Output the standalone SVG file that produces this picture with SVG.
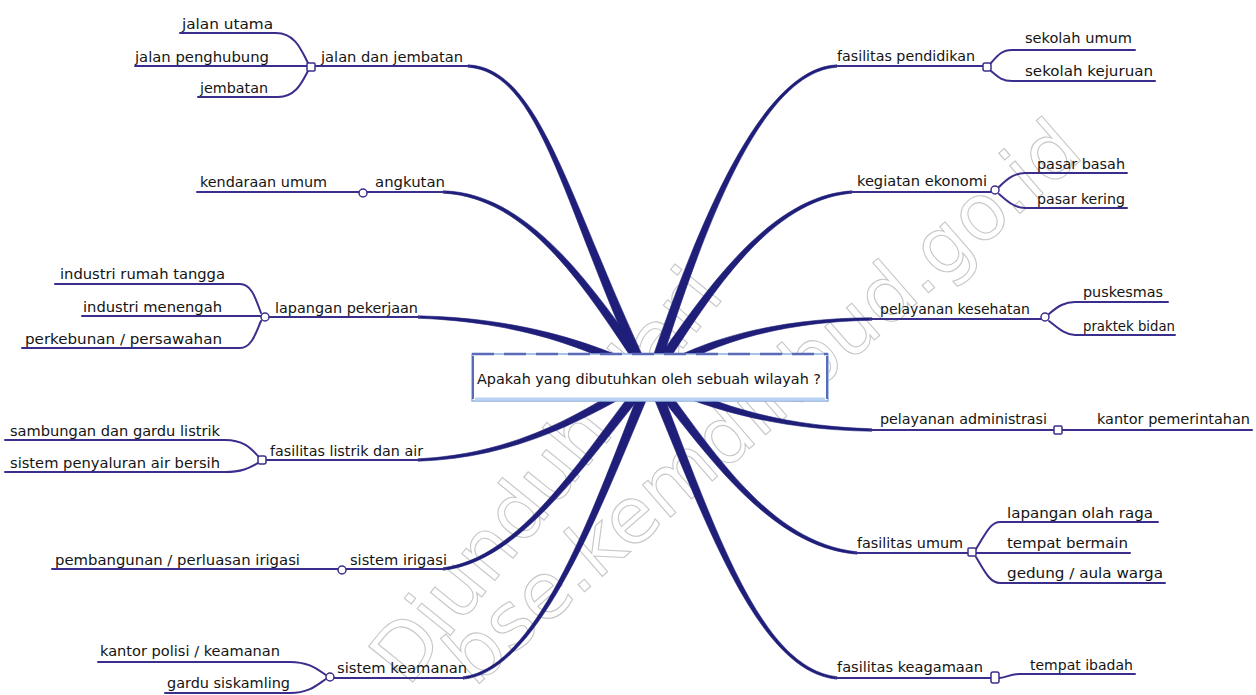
<svg xmlns="http://www.w3.org/2000/svg" width="1256" height="695" viewBox="0 0 1256 695">
<style>
text{font-family:"DejaVu Sans Condensed","DejaVu Sans","Liberation Sans",sans-serif;font-size:14px;fill:#141414}
.ul{fill:none;stroke:#3a2e8c;stroke-width:2;stroke-linecap:round}
.jn{fill:#fff;stroke:#3a2e8c;stroke-width:1.5}
.mc{fill:#1f1f7a;stroke:#1f1f7a;stroke-width:0.6;stroke-linejoin:round}
.wm{font-family:"DejaVu Sans",sans-serif;font-size:78px;fill:none;stroke:#b4b4b4;stroke-width:1.1;opacity:0.75}
</style>
<rect width="1256" height="695" fill="#fff"/>
<g id="watermark">
<text class="wm" transform="translate(408,688) rotate(-51)">Diunduh dari</text>
<text class="wm" transform="translate(474,688) rotate(-41)">bse.kemdikbud.go.id</text>
</g>
<g id="connectors">
<g id="main-branches">
<path class="mc" d="M467.9 67.2 C539.9 72 561.8 201.5 637.5 368.1 L646.5 363.9 C568.2 198.5 540.1 68 468.1 64.8 Z"/>
<path class="mc" d="M443 193.2 C530 197 587.1 292 640.9 371.9 L649.1 366.1 C592.9 288 530 193 443 190.8 Z"/>
<path class="mc" d="M418 318.2 C520 322 588.4 348.1 642.7 377.5 L647.3 368.5 C591.6 341.9 520 318 418 315.8 Z"/>
<path class="mc" d="M418 461.2 C520 458 591.8 415 647.6 383.3 L642.4 374.7 C588.2 409 520 454 418 458.8 Z"/>
<path class="mc" d="M443.1 570.2 C520.2 562 584.7 464.2 649.9 385.1 L642.1 378.9 C579.3 459.8 519.8 558 442.9 567.8 Z"/>
<path class="mc" d="M463.1 679.2 C540.2 672 603.2 501.3 652.6 384.9 L643.4 381.1 C596.8 498.7 539.8 668 462.9 676.8 Z"/>
<path class="mc" d="M837 64.8 C760 68 696.7 228.9 650.3 364.4 L659.7 367.6 C703.3 231.1 760 72 837 67.2 Z"/>
<path class="mc" d="M852 190.8 C770 196 707.1 288.1 652.8 366.2 L661.2 371.8 C712.9 292 770 200 852 193.2 Z"/>
<path class="mc" d="M872 317.8 C770 318 698.1 342.1 654.3 368.8 L659.7 377.2 C701.9 347.9 770 322 872 320.2 Z"/>
<path class="mc" d="M872 428.8 C770 426 701.6 398.9 659.3 375.6 L654.7 384.4 C698.4 405.1 770 430 872 431.2 Z"/>
<path class="mc" d="M857.1 551.8 C770.2 543 712.8 449.8 659.9 379.9 L652.1 386.1 C707.2 454.2 769.8 547 856.9 554.2 Z"/>
<path class="mc" d="M837.1 676.8 C760.2 668 715.3 528.7 658.6 383.1 L649.4 386.9 C708.8 531.3 759.8 672 836.9 679.2 Z"/>
</g>
<g id="underlines">
<path class="ul" d="M180 33 H276 C296 33 302 52 308 63"/>
<path class="ul" d="M135 66 H307"/>
<path class="ul" d="M198 97 H278 C296 97 302 82 308 71"/>
<path class="ul" d="M316 66 H470"/>
<path class="ul" d="M197 192 H359"/>
<path class="ul" d="M367 192 H445"/>
<path class="ul" d="M55 284 H240 C252 284 256 300 261 313"/>
<path class="ul" d="M82 316 H261"/>
<path class="ul" d="M22 348 H240 C252 348 256 332 261 321"/>
<path class="ul" d="M269 317 H420"/>
<path class="ul" d="M5 440 H225 C245 440 252 450 258 456"/>
<path class="ul" d="M5 472 H225 C245 472 252 466 258 463"/>
<path class="ul" d="M266 460 H420"/>
<path class="ul" d="M52 569 H338"/>
<path class="ul" d="M346 569 H445"/>
<path class="ul" d="M98 662 H290 C310 662 318 670 326 675"/>
<path class="ul" d="M165 693 H290 C310 693 318 684 326 679"/>
<path class="ul" d="M334 678 H465"/>
<path class="ul" d="M835 66 H983"/>
<path class="ul" d="M991 63 C998 55 1002 50 1012 50 H1135"/>
<path class="ul" d="M991 71 C998 77 1002 81 1012 81 H1155"/>
<path class="ul" d="M850 192 H991"/>
<path class="ul" d="M999 187 C1008 178 1015 173 1025 173 H1127"/>
<path class="ul" d="M999 194 C1008 202 1015 208 1025 208 H1127"/>
<path class="ul" d="M870 319 H1041"/>
<path class="ul" d="M1049 314 C1058 306 1065 302 1075 302 H1168"/>
<path class="ul" d="M1049 321 C1058 328 1065 335 1075 335 H1175"/>
<path class="ul" d="M870 430 H1054"/>
<path class="ul" d="M1062 430 H1252"/>
<path class="ul" d="M855 553 H968"/>
<path class="ul" d="M976 549 C985 535 990 522 1000 522 H1158"/>
<path class="ul" d="M976 553 H1130"/>
<path class="ul" d="M976 557 C985 572 990 583 1000 583 H1165"/>
<path class="ul" d="M835 678 H991"/>
<path class="ul" d="M999 678 C1005 678 1010 674 1020 674 H1135"/>
</g>
<g id="junctions">
<rect class="jn" x="307" y="63" width="8" height="8" rx="1"/>
<circle class="jn" cx="363" cy="193" r="4"/>
<circle class="jn" cx="265" cy="317" r="4"/>
<rect class="jn" x="258" y="456" width="8" height="8" rx="2"/>
<circle class="jn" cx="342" cy="570" r="4"/>
<circle class="jn" cx="330" cy="677" r="4"/>
<rect class="jn" x="983" y="63" width="8" height="8" rx="2"/>
<circle class="jn" cx="995" cy="190" r="4"/>
<circle class="jn" cx="1045" cy="317" r="4"/>
<rect class="jn" x="1054" y="426" width="8" height="8" rx="1"/>
<rect class="jn" x="968" y="548" width="8" height="8" rx="1"/>
<rect class="jn" x="991" y="672" width="8" height="11" rx="2"/>
</g>
</g>
<g id="center">
<rect x="472" y="354" width="356" height="47" fill="#fff" stroke="#8fb0e0" stroke-width="1.5"/>
<line x1="472" y1="354" x2="828" y2="354" stroke="#5a6ab8" stroke-width="2.5" stroke-dasharray="22 10"/>
<line x1="475" y1="399" x2="825" y2="399" stroke="#b8d4f2" stroke-width="3"/>
<line x1="473" y1="356" x2="473" y2="399" stroke="#5a6ab8" stroke-width="2"/>
<line x1="827" y1="356" x2="827" y2="399" stroke="#5a6ab8" stroke-width="2"/>
<text x="477" y="384" textLength="344" lengthAdjust="spacingAndGlyphs">Apakah yang dibutuhkan oleh sebuah wilayah ?</text>
</g>
<g id="jalan-dan-jembatan"><text x="321" y="62" textLength="142" lengthAdjust="spacingAndGlyphs">jalan dan jembatan</text></g>
<g id="jalan-utama"><text x="182" y="29" textLength="91" lengthAdjust="spacingAndGlyphs">jalan utama</text></g>
<g id="jalan-penghubung"><text x="135" y="62" textLength="134" lengthAdjust="spacingAndGlyphs">jalan penghubung</text></g>
<g id="jembatan"><text x="200" y="93" textLength="68" lengthAdjust="spacingAndGlyphs">jembatan</text></g>
<g id="angkutan"><text x="375" y="187" textLength="70" lengthAdjust="spacingAndGlyphs">angkutan</text></g>
<g id="kendaraan-umum"><text x="200" y="187" textLength="127" lengthAdjust="spacingAndGlyphs">kendaraan umum</text></g>
<g id="lapangan-pekerjaan"><text x="275" y="313" textLength="143" lengthAdjust="spacingAndGlyphs">lapangan pekerjaan</text></g>
<g id="industri-rumah-tangga"><text x="60" y="279" textLength="165" lengthAdjust="spacingAndGlyphs">industri rumah tangga</text></g>
<g id="industri-menengah"><text x="83" y="312" textLength="139" lengthAdjust="spacingAndGlyphs">industri menengah</text></g>
<g id="perkebunan"><text x="25" y="344" textLength="197" lengthAdjust="spacingAndGlyphs">perkebunan / persawahan</text></g>
<g id="fasilitas-listrik"><text x="270" y="456" textLength="153" lengthAdjust="spacingAndGlyphs">fasilitas listrik dan air</text></g>
<g id="sambungan"><text x="10" y="436" textLength="210" lengthAdjust="spacingAndGlyphs">sambungan dan gardu listrik</text></g>
<g id="sistem-penyaluran"><text x="10" y="468" textLength="210" lengthAdjust="spacingAndGlyphs">sistem penyaluran air bersih</text></g>
<g id="sistem-irigasi"><text x="350" y="565" textLength="97" lengthAdjust="spacingAndGlyphs">sistem irigasi</text></g>
<g id="pembangunan"><text x="55" y="565" textLength="245" lengthAdjust="spacingAndGlyphs">pembangunan / perluasan irigasi</text></g>
<g id="sistem-keamanan"><text x="337" y="673" textLength="130" lengthAdjust="spacingAndGlyphs">sistem keamanan</text></g>
<g id="kantor-polisi"><text x="100" y="656" textLength="180" lengthAdjust="spacingAndGlyphs">kantor polisi / keamanan</text></g>
<g id="gardu-siskamling"><text x="167" y="688" textLength="123" lengthAdjust="spacingAndGlyphs">gardu siskamling</text></g>
<g id="fasilitas-pendidikan"><text x="837" y="61" textLength="138" lengthAdjust="spacingAndGlyphs">fasilitas pendidikan</text></g>
<g id="sekolah-umum"><text x="1025" y="43" textLength="107" lengthAdjust="spacingAndGlyphs">sekolah umum</text></g>
<g id="sekolah-kejuruan"><text x="1025" y="76" textLength="128" lengthAdjust="spacingAndGlyphs">sekolah kejuruan</text></g>
<g id="kegiatan-ekonomi"><text x="857" y="186" textLength="130" lengthAdjust="spacingAndGlyphs">kegiatan ekonomi</text></g>
<g id="pasar-basah"><text x="1037" y="169" textLength="88" lengthAdjust="spacingAndGlyphs">pasar basah</text></g>
<g id="pasar-kering"><text x="1037" y="204" textLength="88" lengthAdjust="spacingAndGlyphs">pasar kering</text></g>
<g id="pelayanan-kesehatan"><text x="880" y="314" textLength="150" lengthAdjust="spacingAndGlyphs">pelayanan kesehatan</text></g>
<g id="puskesmas"><text x="1083" y="297" textLength="80" lengthAdjust="spacingAndGlyphs">puskesmas</text></g>
<g id="praktek-bidan"><text x="1083" y="331" textLength="92" lengthAdjust="spacingAndGlyphs">praktek bidan</text></g>
<g id="pelayanan-administrasi"><text x="880" y="424" textLength="167" lengthAdjust="spacingAndGlyphs">pelayanan administrasi</text></g>
<g id="kantor-pemerintahan"><text x="1097" y="424" textLength="153" lengthAdjust="spacingAndGlyphs">kantor pemerintahan</text></g>
<g id="fasilitas-umum"><text x="857" y="548" textLength="106" lengthAdjust="spacingAndGlyphs">fasilitas umum</text></g>
<g id="lapangan-olah-raga"><text x="1007" y="518" textLength="146" lengthAdjust="spacingAndGlyphs">lapangan olah raga</text></g>
<g id="tempat-bermain"><text x="1007" y="548" textLength="121" lengthAdjust="spacingAndGlyphs">tempat bermain</text></g>
<g id="gedung-aula"><text x="1007" y="578" textLength="156" lengthAdjust="spacingAndGlyphs">gedung / aula warga</text></g>
<g id="fasilitas-keagamaan"><text x="837" y="672" textLength="146" lengthAdjust="spacingAndGlyphs">fasilitas keagamaan</text></g>
<g id="tempat-ibadah"><text x="1030" y="670" textLength="103" lengthAdjust="spacingAndGlyphs">tempat ibadah</text></g>
</svg>
